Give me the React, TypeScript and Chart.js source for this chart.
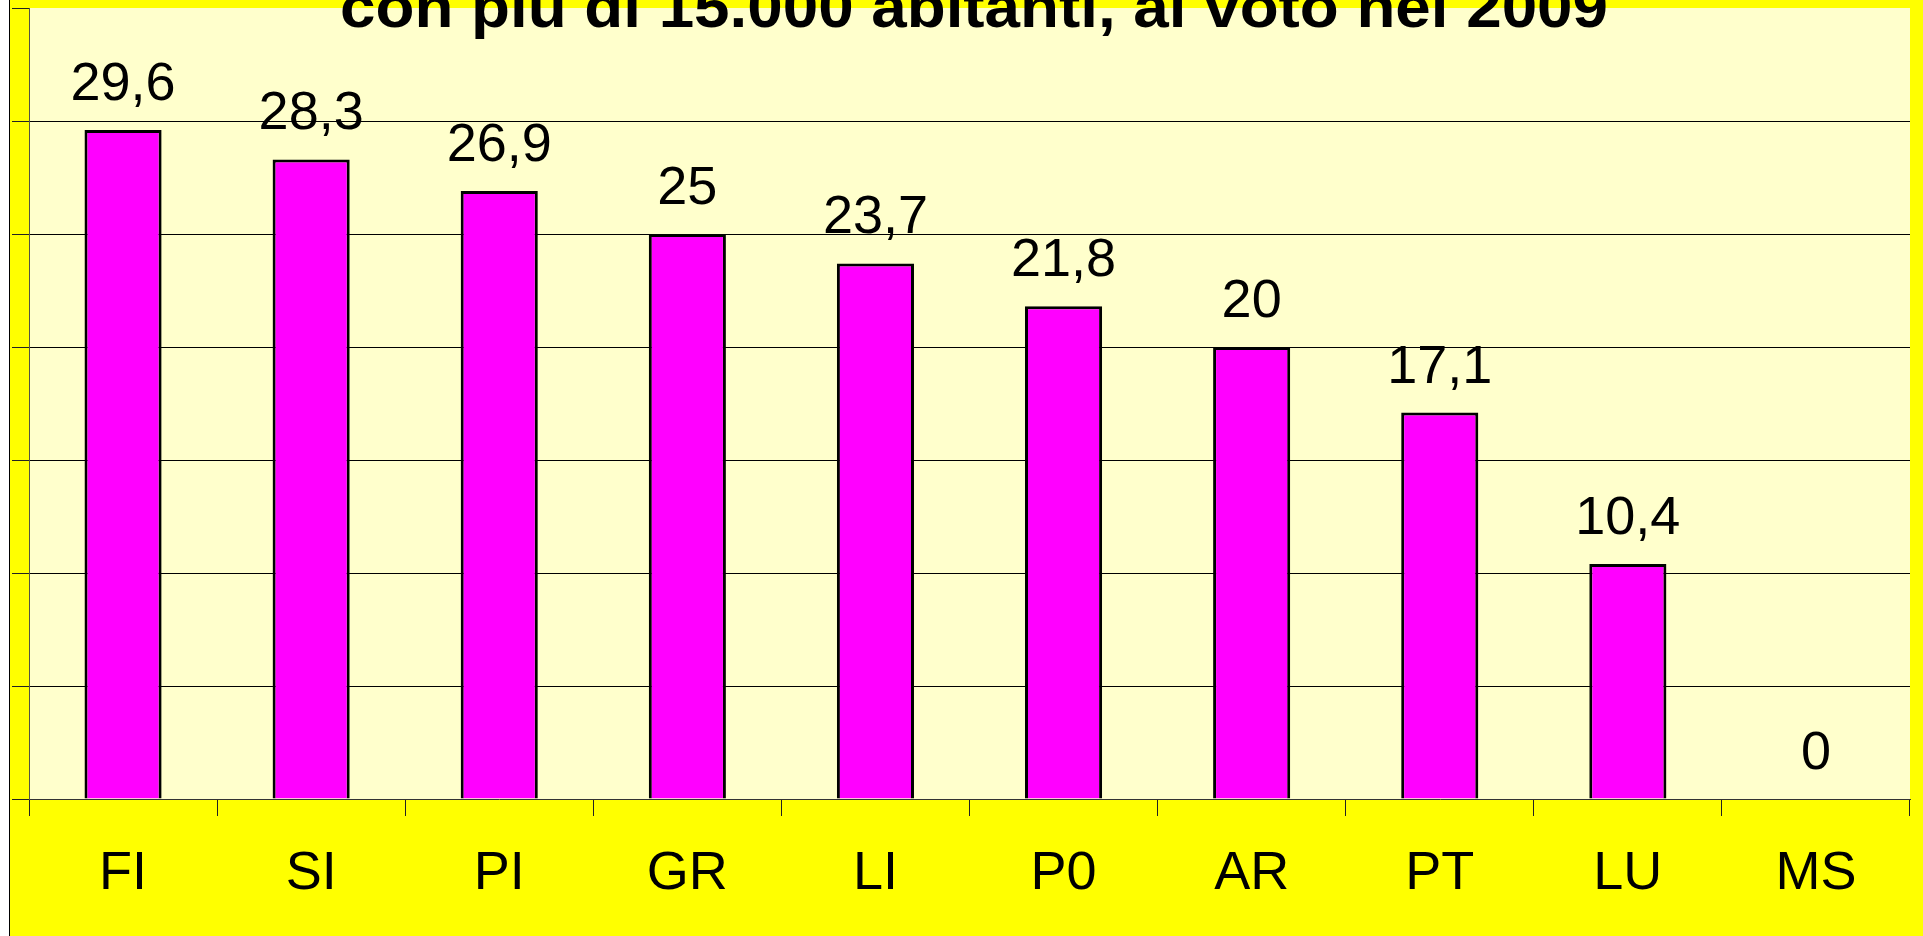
import React, { useEffect, useRef } from "react";
import { Chart, registerables } from "chart.js";

Chart.register(...registerables);

const categories = ["FI", "SI", "PI", "GR", "LI", "P0", "AR", "PT", "LU", "MS"];
const values = [29.6, 28.3, 26.9, 25, 23.7, 21.8, 20, 17.1, 10.4, 0];
const yMin = 0;
const yMax = 35;
const yStep = 5;
const titleText = "con più di 15.000 abitanti, al voto nel 2009";

const W = 1923;
const H = 936;
const FONT = "'Liberation Sans', Arial, sans-serif";

const fmt = (v: number) => String(v).replace(".", ",");

const backgroundPlugin = {
  id: "bgPlugin",
  beforeDraw(chart: any) {
    const { ctx, chartArea } = chart;
    ctx.save();
    ctx.fillStyle = "#FFFFFF";
    ctx.fillRect(0, 0, W, H);
    ctx.fillStyle = "#FFFF00";
    ctx.fillRect(10, 0, W - 10, H);
    ctx.strokeStyle = "#000000";
    ctx.lineWidth = 1;
    ctx.beginPath();
    ctx.moveTo(9.5, 0);
    ctx.lineTo(9.5, H);
    ctx.stroke();
    ctx.fillStyle = "#FFFFCC";
    ctx.fillRect(
      chartArea.left,
      chartArea.top,
      chartArea.right - chartArea.left,
      chartArea.bottom - chartArea.top
    );
    ctx.restore();
  },
};

const valueLabelPlugin = {
  id: "valueLabels",
  afterDatasetsDraw(chart: any) {
    const { ctx } = chart;
    const meta = chart.getDatasetMeta(0);
    ctx.save();
    ctx.fillStyle = "#000000";
    ctx.font = `54px ${FONT}`;
    ctx.textAlign = "center";
    ctx.textBaseline = "alphabetic";
    meta.data.forEach((el: any, i: number) => {
      ctx.fillText(fmt(values[i]), el.x, el.y - 30);
    });
    ctx.restore();
  },
};

const titlePlugin = {
  id: "cutTitle",
  afterDraw(chart: any) {
    const { ctx } = chart;
    ctx.save();
    ctx.fillStyle = "#000000";
    ctx.font = `bold 60px ${FONT}`;
    ctx.textAlign = "center";
    ctx.textBaseline = "alphabetic";
    const targetWidth = 1268;
    const w = ctx.measureText(titleText).width;
    const sx = targetWidth / w;
    ctx.translate(974, 27);
    ctx.scale(sx, 1);
    ctx.fillText(titleText, 0, 0);
    ctx.restore();
  },
};

export default function App() {
  const ref = useRef<HTMLCanvasElement | null>(null);

  useEffect(() => {
    document.body.style.margin = "0";
    document.body.style.overflow = "hidden";
    const canvas = ref.current;
    if (!canvas) return;
    const chart = new Chart(canvas, {
      type: "bar",
      data: {
        labels: categories,
        datasets: [
          {
            data: values,
            backgroundColor: "#FF00FF",
            borderColor: "#000000",
            borderWidth: 3,
            barPercentage: 0.41,
            categoryPercentage: 1,
          },
        ],
      },
      options: {
        responsive: false,
        animation: false,
        devicePixelRatio: 1,
        layout: { padding: { top: 8, right: 13, left: 0, bottom: 0 } },
        plugins: {
          legend: { display: false },
          title: { display: false },
          tooltip: { enabled: false },
        },
        scales: {
          x: {
            grid: {
              display: true,
              drawOnChartArea: false,
              drawTicks: true,
              tickLength: 17,
              tickColor: "#222222",
              offset: true,
            },
            border: { display: true, color: "#333333", width: 1 },
            ticks: {
              color: "#000000",
              font: { family: FONT, size: 54 },
              padding: 26,
              maxRotation: 0,
              autoSkip: false,
            },
            afterFit: (s: any) => {
              s.height = 137;
            },
          },
          y: {
            min: yMin,
            max: yMax,
            grid: {
              color: (c: any) =>
                c.tick && (c.tick.value === yMax || c.tick.value === yMin)
                  ? "rgba(0,0,0,0)"
                  : "#000000",
              tickColor: "#222222",
              tickLength: 17,
              drawTicks: true,
            },
            border: { display: true, color: "#555544", width: 1 },
            ticks: { display: false, stepSize: yStep },
            afterFit: (s: any) => {
              s.width = 29;
            },
          },
        },
      },
      plugins: [backgroundPlugin, valueLabelPlugin, titlePlugin],
    });
    return () => chart.destroy();
  }, []);

  return (
    <canvas
      ref={ref}
      width={W}
      height={H}
      style={{ display: "block", width: W + "px", height: H + "px" }}
    />
  );
}
